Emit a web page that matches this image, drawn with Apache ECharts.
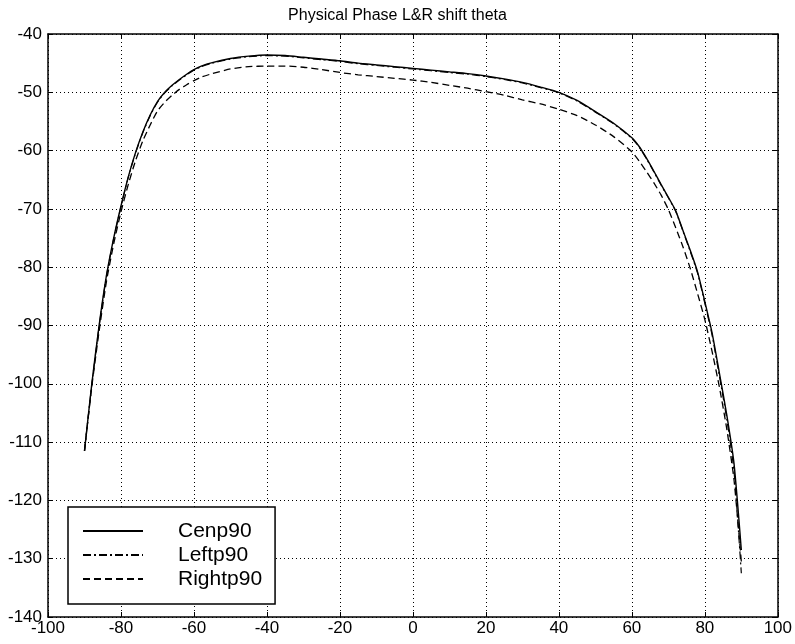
<!DOCTYPE html>
<html>
<head>
<meta charset="utf-8">
<script src="https://cdn.jsdelivr.net/npm/echarts@6/dist/echarts.min.js"></script>
<style>
  html, body { margin: 0; padding: 0; background: #fff; }
  #chart { width: 795px; height: 644px; }
</style>
</head>
<body>
<div id="chart"></div>
<script>
// theta (deg)
const theta = [-90, -88, -86, -84, -82, -80, -78, -76, -74, -72, -70, -68, -66, -64, -62, -60, -58, -55, -50, -45, -40, -35, -30, -25, -20, -15, -10, -5, 0,
  5, 10, 15, 20, 25, 30, 35, 40, 45, 50, 55, 60, 62, 64, 66, 68, 70, 72, 74, 76, 78, 80, 82, 84, 86, 88, 90];

const cenp90 = [-111.5, -100, -90, -81.5, -75, -69.5, -64.5, -60.3, -56.8, -53.9, -51.6, -50.0, -48.8, -47.8, -46.9, -46.1, -45.5, -44.9, -44.2, -43.8, -43.6, -43.7, -44.0, -44.3, -44.6, -45.0, -45.3, -45.6, -45.9,
  -46.2, -46.5, -46.8, -47.2, -47.7, -48.3, -49.1, -50.0, -51.4, -53.3, -55.3, -57.8, -59.3, -61.3, -63.5, -65.8, -68.0, -70.3, -73.7, -77.1, -80.8, -85.9, -91.3, -98.2, -105.3, -113.7, -128.5];

const leftp90 = [-111.5, -100.2, -90.2, -81.6, -75.1, -69.6, -64.6, -60.4, -56.9, -54.0, -51.7, -50.1, -48.9, -47.9, -47.0, -46.2, -45.6, -45.0, -44.3, -43.9, -43.7, -43.8, -44.1, -44.4, -44.7, -45.1, -45.4, -45.7, -46.0,
  -46.3, -46.6, -46.9, -47.3, -47.8, -48.4, -49.2, -50.1, -51.5, -53.4, -55.4, -57.9, -59.4, -61.4, -63.6, -65.9, -68.1, -70.4, -73.8, -77.3, -81.0, -86.2, -91.7, -98.7, -106.0, -115.0, -132.5];

const rightp90 = [-111.5, -100.5, -91, -82.5, -76, -70.5, -65.8, -61.7, -58.3, -55.6, -53.2, -51.7, -50.5, -49.5, -48.7, -48.0, -47.4, -46.8, -46.0, -45.6, -45.5, -45.5, -45.7, -46.1, -46.6, -47.0, -47.3, -47.6, -47.9,
  -48.3, -48.8, -49.3, -49.9, -50.5, -51.3, -52.0, -52.9, -54.0, -55.6, -57.6, -60.2, -61.8, -63.6, -65.5, -67.6, -70.1, -73.2, -76.5, -80.2, -84.5, -89, -94.5, -100.6, -107.7, -116.5, -130.5];

const names = ['Cenp90', 'Leftp90', 'Rightp90'];

function pairs(ys) {
  return theta.map((t, i) => [t, ys[i]]);
}

const chart = echarts.init(document.getElementById('chart'));

const font = 'Liberation Sans, Arial, sans-serif';
const gridLine = { show: true, lineStyle: { color: '#000', type: [1, 3], width: 1 } };

const option = {
  animation: false,
  backgroundColor: '#fff',
  title: {
    text: 'Physical Phase L&R shift theta',
    left: 'center',
    top: 3,
    textStyle: { fontFamily: font, fontSize: 16, fontWeight: 'normal', color: '#000' }
  },
  legend: {
    data: names,
    orient: 'vertical',
    left: 68,
    top: 507,
    padding: [13, 13, 14, 14],
    itemGap: 2,
    itemWidth: 60,
    itemHeight: 14,
    itemStyle: { opacity: 0 },
    backgroundColor: '#fff',
    borderColor: '#000',
    borderWidth: 1.5,
    borderRadius: 0,
    textStyle: {
      fontFamily: font,
      fontSize: 21,
      color: '#000',
      lineHeight: 22,
      padding: [0, 0, 0, 30]
    }
  },
  grid: { left: 48, right: 17, top: 34, bottom: 27 },
  xAxis: [
    {
      type: 'value', min: -100, max: 100, interval: 20,
      axisLine: { onZero: false, lineStyle: { color: '#000', width: 1.5 } },
      axisTick: { inside: true, length: 5, lineStyle: { color: '#000' } },
      axisLabel: { color: '#000', fontFamily: font, fontSize: 17, margin: 3 },
      splitLine: gridLine
    },
    {
      type: 'value', min: -100, max: 100, interval: 20, position: 'top',
      axisLine: { onZero: false, lineStyle: { color: '#000', width: 1.5 } },
      axisTick: { inside: true, length: 5, lineStyle: { color: '#000' } },
      axisLabel: { show: false },
      splitLine: { show: false }
    }
  ],
  yAxis: [
    {
      type: 'value', min: -140, max: -40, interval: 10,
      axisLine: { onZero: false, lineStyle: { color: '#000', width: 1.5 } },
      axisTick: { inside: true, length: 5, lineStyle: { color: '#000' } },
      axisLabel: { color: '#000', fontFamily: font, fontSize: 17, margin: 6 },
      splitLine: gridLine
    },
    {
      type: 'value', min: -140, max: -40, interval: 10, position: 'right',
      axisLine: { onZero: false, lineStyle: { color: '#000', width: 1.5 } },
      axisTick: { inside: true, length: 5, lineStyle: { color: '#000' } },
      axisLabel: { show: false },
      splitLine: { show: false }
    }
  ],
  series: [
    {
      name: 'Cenp90', type: 'line', data: pairs(cenp90),
      symbol: 'none', showSymbol: false, smooth: 0.2, z: 3,
      itemStyle: { color: '#000' },
      lineStyle: { color: '#000', width: 1.4, type: 'solid' }
    },
    {
      name: 'Leftp90', type: 'line', data: pairs(leftp90),
      symbol: 'none', showSymbol: false, smooth: 0.2, z: 2,
      itemStyle: { color: '#000' },
      lineStyle: { color: '#000', width: 1.2, type: [8, 3, 2, 3] }
    },
    {
      name: 'Rightp90', type: 'line', data: pairs(rightp90),
      symbol: 'none', showSymbol: false, smooth: 0.2, z: 2,
      itemStyle: { color: '#000' },
      lineStyle: { color: '#000', width: 1.3, type: [7, 4] }
    }
  ]
};

chart.setOption(option);
</script>
</body>
</html>
